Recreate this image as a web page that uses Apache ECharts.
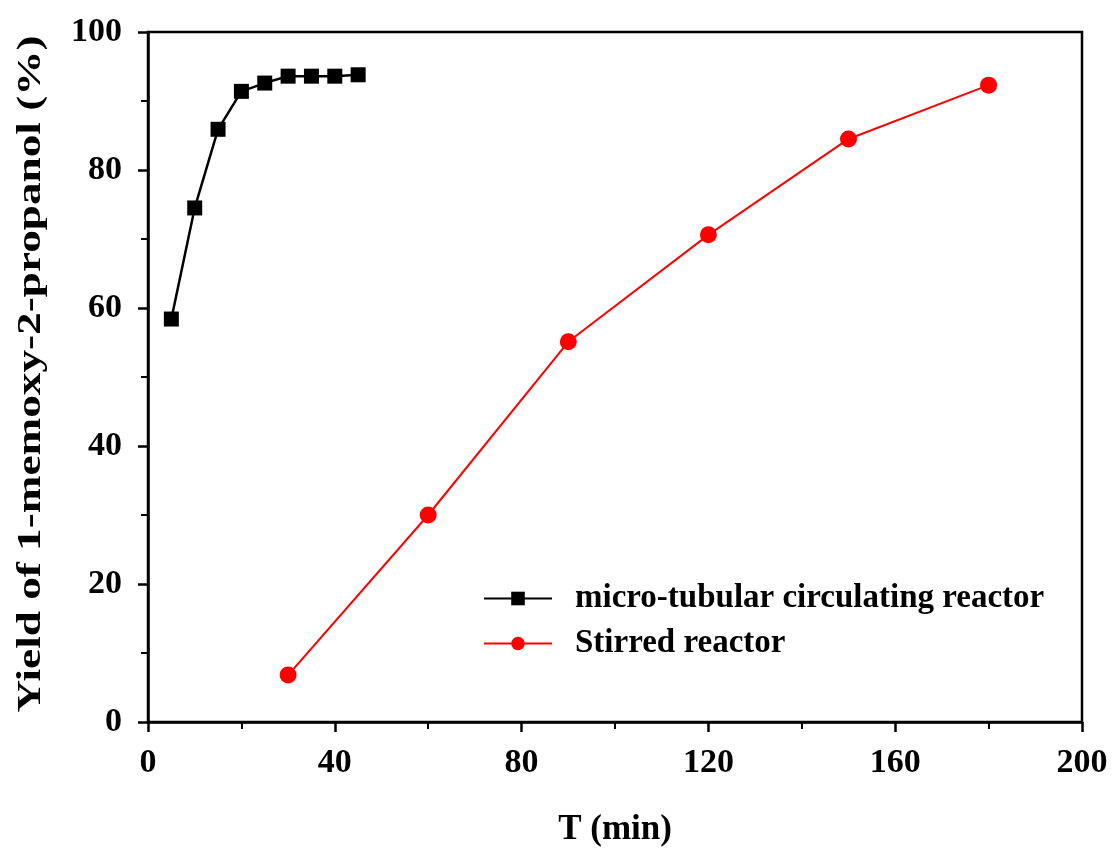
<!DOCTYPE html>
<html>
<head>
<meta charset="utf-8">
<script src="https://cdn.jsdelivr.net/npm/echarts@6/dist/echarts.min.js"></script>
<style>
  html, body { margin: 0; padding: 0; background: #fff; }
  #chart { width: 1114px; height: 848px; }
</style>
</head>
<body>
<div id="chart"></div>
<script>
// micro-tubular circulating reactor
const tubeTime = [5, 10, 15, 20, 25, 30, 35, 40, 45];
const tubeYield = [58.4, 74.5, 85.9, 91.4, 92.6, 93.6, 93.6, 93.6, 93.8];

// stirred reactor
const stirTime = [30, 60, 90, 120, 150, 180];
const stirYield = [6.8, 30.0, 55.1, 70.6, 84.5, 92.3];

const seriesNames = ['micro-tubular circulating reactor', 'Stirred reactor'];
const yTitle = 'Yield of 1-memoxy-2-propanol (%)';

const font = '"Liberation Serif", "Times New Roman", serif';

const chart = echarts.init(document.getElementById('chart'));

const axisCommon = {
  axisLine: { lineStyle: { color: '#000', width: 2.5 } },
  axisTick: { show: true, inside: false, length: 10, lineStyle: { color: '#000', width: 2.5 } },
  minorTick: { show: true, splitNumber: 2, length: 7, lineStyle: { color: '#000', width: 2 } },
  splitLine: { show: false },
  nameTextStyle: { color: '#000', fontFamily: font, fontWeight: 'bold', fontSize: 35 }
};
const labelStyle = { color: '#000', fontFamily: font, fontWeight: 'bold', fontSize: 34 };

chart.setOption({
  backgroundColor: '#fff',
  animation: false,
  grid: {
    left: 148, right: 32, top: 32, bottom: 126,
    outerBoundsMode: 'none',
    show: true, borderColor: '#000', borderWidth: 2.5
  },
  legend: {
    left: 478, top: 577,
    orient: 'vertical',
    itemGap: 12,
    itemWidth: 68, itemHeight: 17,
    textStyle: Object.assign({}, labelStyle, { fontSize: 33, padding: [0, 0, 0, 18] }),
    data: seriesNames
  },
  // rotated y title, stretched along its length like the original
  graphic: [{
    type: 'text',
    x: 31, y: 374,
    rotation: Math.PI / 2,
    scaleX: 1.33,
    style: {
      text: yTitle,
      font: 'bold 34px ' + font,
      fill: '#000',
      align: 'center',
      verticalAlign: 'middle'
    }
  }],
  xAxis: Object.assign({}, axisCommon, {
    type: 'value',
    min: 0, max: 200, interval: 40,
    axisLabel: Object.assign({ margin: 24 }, labelStyle),
    name: 'T (min)',
    nameLocation: 'middle',
    nameGap: 90
  }),
  yAxis: Object.assign({}, axisCommon, {
    type: 'value',
    min: 0, max: 100, interval: 20,
    axisLabel: Object.assign({ margin: 26 }, labelStyle)
  }),
  series: [
    {
      name: seriesNames[0],
      type: 'line',
      data: tubeTime.map((t, i) => [t, tubeYield[i]]),
      symbol: 'rect', symbolSize: 15,
      itemStyle: { color: '#000' },
      lineStyle: { color: '#000', width: 2.5 }
    },
    {
      name: seriesNames[1],
      type: 'line',
      data: stirTime.map((t, i) => [t, stirYield[i]]),
      symbol: 'circle', symbolSize: 17,
      itemStyle: { color: '#ff0000' },
      lineStyle: { color: '#ff0000', width: 2 }
    }
  ]
});
</script>
</body>
</html>
